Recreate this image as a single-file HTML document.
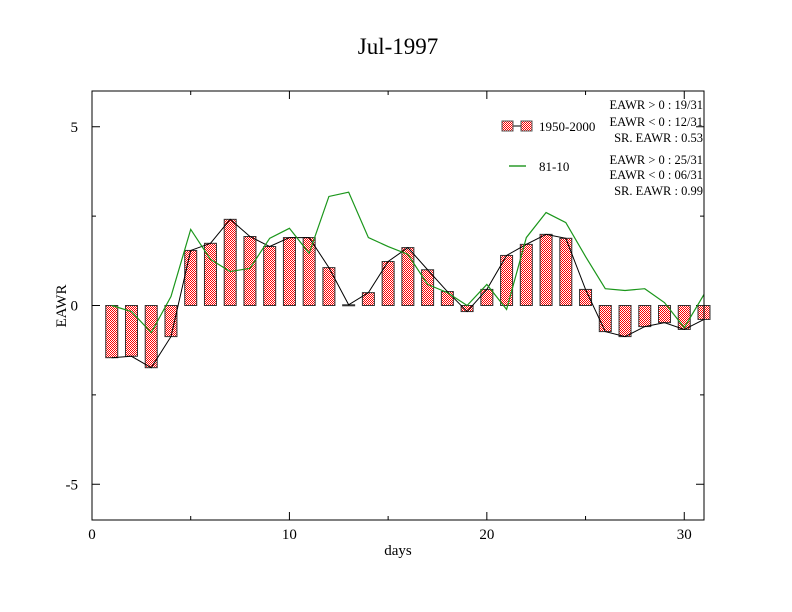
<!DOCTYPE html>
<html><head><meta charset="utf-8"><style>
body{margin:0;background:#fff}
svg{display:block;font-family:"Liberation Serif",serif}
</style></head><body>
<svg id="chart" width="792" height="612" viewBox="0 0 792 612">
<defs>
<pattern id="chk" width="2" height="2" patternUnits="userSpaceOnUse">
<rect width="2" height="2" fill="#fff"/><rect width="1" height="1" fill="#f00"/><rect x="1" y="1" width="1" height="1" fill="#f00"/>
</pattern>
</defs>
<rect x="0" y="0" width="792" height="612" fill="#fff"/>
<text x="398" y="54" font-size="23" text-anchor="middle">Jul-1997</text>
<g id="axes"></g>
<g id="bars"></g>
<g id="lines"></g>
<rect x="92" y="91" width="612" height="429" fill="none" stroke="#000" stroke-width="1"/>
<text x="398" y="555" font-size="15" text-anchor="middle">days</text>
<text x="66" y="306" font-size="15" text-anchor="middle" transform="rotate(-90 66 306)">EAWR</text>
<g font-size="13">
<g>
<line x1="506" y1="126" x2="528" y2="126" stroke="#000"/>
<rect x="502" y="121" width="11" height="10" fill="url(#chk)" stroke="#555"/>
<rect x="521" y="121" width="11" height="10" fill="url(#chk)" stroke="#555"/>
<text x="539" y="131">1950-2000</text>
</g>
<g>
<line x1="509" y1="166" x2="526" y2="166" stroke="#080" stroke-width="1.2"/>
<text x="539" y="171">81-10</text>
</g>
<g font-size="12.5" text-anchor="end">
<text x="703" y="109">EAWR &gt; 0 : 19/31</text>
<text x="703" y="126">EAWR &lt; 0 : 12/31</text>
<text x="703" y="142">SR. EAWR :  0.53</text>
<text x="703" y="164">EAWR &gt; 0 : 25/31</text>
<text x="703" y="179">EAWR &lt; 0 : 06/31</text>
<text x="703" y="195">SR. EAWR :  0.99</text>
</g>
</g>
</svg>
<script>
const days=[1,2,3,4,5,6,7,8,9,10,11,12,13,14,15,16,17,18,19,20,21,22,23,24,25,26,27,28,29,30,31];
const eawr1950=[-1.46,-1.42,-1.74,-0.87,1.54,1.74,2.41,1.93,1.65,1.9,1.9,1.06,0.02,0.36,1.23,1.62,1.0,0.39,-0.17,0.45,1.4,1.71,1.99,1.88,0.45,-0.73,-0.87,-0.59,-0.48,-0.67,-0.39];
const eawr8110=[0,-0.17,-0.76,0.25,2.13,1.29,0.95,1.04,1.88,2.16,1.46,3.05,3.17,1.9,1.65,1.43,0.59,0.36,0,0.59,-0.11,1.9,2.6,2.32,1.37,0.47,0.42,0.47,0.08,-0.62,0.31];
const xTicks=[0,10,20,30];
const yTicks=[-5,0,5];
const yTickLabels=["-5","0","5"];
const NS="http://www.w3.org/2000/svg";
const X0=92,X1=704,Y0=91,Y1=520;
const xs=v=>X0+(v-0)/(31-0)*(X1-X0);
const ys=v=>Y1-(v+6)/12*(Y1-Y0);
function mk(t,a,p){const e=document.createElementNS(NS,t);for(const k in a)e.setAttribute(k,a[k]);p.appendChild(e);return e;}
const ax=document.getElementById('axes');
xTicks.forEach(t=>{
  const l=mk('line',{x1:xs(t),x2:xs(t),y1:Y1,y2:Y1-8,stroke:'#000'},ax);
  
  
  mk('line',{x1:xs(t),x2:xs(t),y1:Y0,y2:Y0+8,stroke:'#000'},ax);
  const tx=mk('text',{x:xs(t),y:Y1+19,'font-size':15,'text-anchor':'middle'},ax);tx.textContent=t;
  
  
});
[5,15,25].forEach(t=>{mk('line',{x1:xs(t),x2:xs(t),y1:Y1,y2:Y1-4,stroke:'#000'},ax);mk('line',{x1:xs(t),x2:xs(t),y1:Y0,y2:Y0+4,stroke:'#000'},ax);});
yTicks.forEach((t,i)=>{
  const l=mk('line',{x1:X0,x2:X0+8,y1:ys(t),y2:ys(t),stroke:'#000'},ax);
  
  
  mk('line',{x1:X1,x2:X1-8,y1:ys(t),y2:ys(t),stroke:'#000'},ax);
  const tx=mk('text',{x:X0-14,y:ys(t)+5,'font-size':15,'text-anchor':'end'},ax);tx.textContent=yTickLabels[i];
  
  
});
[-2.5,2.5].forEach(t=>{mk('line',{x1:X0,x2:X0+4,y1:ys(t),y2:ys(t),stroke:'#000'},ax);mk('line',{x1:X1,x2:X1-4,y1:ys(t),y2:ys(t),stroke:'#000'},ax);});
const bg=document.getElementById('bars');
const bw=12;
days.forEach((d,i)=>{
  const v=eawr1950[i];const y=Math.min(ys(v),ys(0));const h=Math.max(Math.abs(ys(v)-ys(0)),1);
  const r=mk('rect',{x:xs(d)-bw/2,y:y,width:bw,height:h,fill:'url(#chk)',stroke:'#333','stroke-width':1},bg);
  
  
});
const lg=document.getElementById('lines');
const p1=mk('polyline',{points:days.map((d,i)=>xs(d)+','+ys(eawr1950[i])).join(' '),fill:'none',stroke:'#000','stroke-width':1},lg);


const p2=mk('polyline',{points:days.map((d,i)=>xs(d)+','+ys(eawr8110[i])).join(' '),fill:'none',stroke:'#1a961a','stroke-width':1.2},lg);


</script>
</body></html>
